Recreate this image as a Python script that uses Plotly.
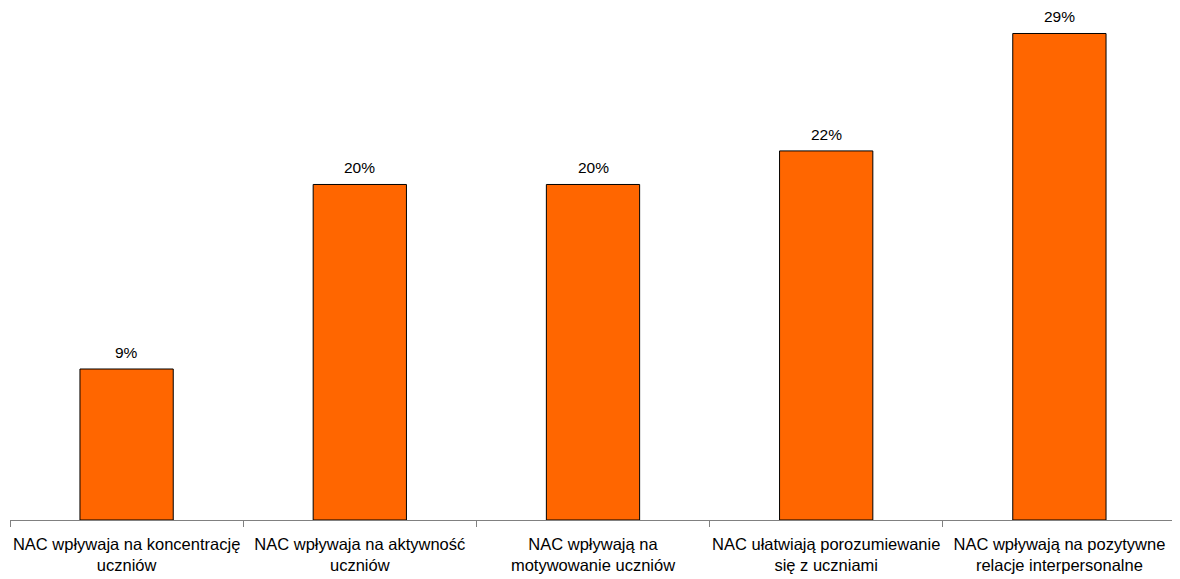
import plotly.graph_objects as go

categories = [
    "NAC wpływaja na koncentrację<br>uczniów",
    "NAC wpływaja na aktywność<br>uczniów",
    "NAC wpływają na<br>motywowanie uczniów",
    "NAC ułatwiają porozumiewanie<br>się z uczniami",
    "NAC wpływają na pozytywne<br>relacje interpersonalne",
]
values = [9, 20, 20, 22, 29]
labels = ["9%", "20%", "20%", "22%", "29%"]

fig = go.Figure(go.Bar(
    x=categories, y=values,
    marker=dict(color="#FF6600", line=dict(color="#000000", width=1)),
    width=0.4,
))
for c, v, t in zip(categories, values, labels):
    fig.add_annotation(x=c, y=v, text=t, showarrow=False, yanchor="bottom",
                       yshift=6, font=dict(family="Liberation Sans, Arial",
                                           size=15.5, color="#000000"))
fig.update_layout(
    width=1180, height=579,
    margin=dict(l=2, r=12, t=2, b=67),
    plot_bgcolor="white", paper_bgcolor="white",
    showlegend=False,
    font=dict(family="Liberation Sans, Arial", size=15, color="#000000"),
    xaxis=dict(
        type="category", showline=True, linecolor="#808080", linewidth=1,
        ticks="outside", tickson="boundaries", ticklen=6, tickcolor="#808080",
        tickfont=dict(size=16.5), tickangle=0, ticklabelstandoff=9,
        automargin=False, showgrid=False,
    ),
    yaxis=dict(visible=False, range=[0, 30.4], showgrid=False),
)
fig.write_html("out.html")
